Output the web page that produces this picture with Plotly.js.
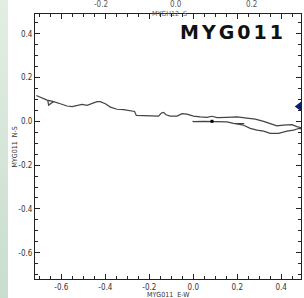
<!DOCTYPE html>
<html><head><meta charset="utf-8">
<script src="https://cdn.plot.ly/plotly-3.0.1.min.js"></script>
<style>
html,body{margin:0;padding:0;}
body{width:304px;height:298px;overflow:hidden;background:#fff linear-gradient(to bottom,#e2eee2,#c9ddcf) no-repeat 0 0/8px 100%;}
#chart{width:304px;height:298px;}
</style></head><body><div id="chart"></div>
<script>
// particle motion trace (E-W, N-S displacement)
const ewDisp = [-0.714,-0.695,-0.665,-0.635,-0.658,-0.662,-0.635,-0.605,-0.574,-0.551,-0.529,-0.506,-0.483,-0.460,-0.438,-0.423,-0.400,-0.377,-0.347,-0.317,-0.286,-0.267,-0.259,-0.210,-0.158,-0.145,-0.135,-0.124,-0.105,-0.074,-0.051,-0.029,0.001,0.032,0.062,0.085,0.108,0.153,0.199,0.244,0.282,0.320,0.350,0.380,0.410,0.449,0.471,0.505,0.514,0.505,0.479,0.456,0.426,0.388,0.350,0.320,0.290,0.259,0.229,0.183,0.232,0.183,0.153,0.108,0.085,0.047,0.001,-0.003];
const nsDisp = [0.118,0.109,0.097,0.090,0.074,0.095,0.090,0.080,0.070,0.067,0.073,0.077,0.073,0.080,0.090,0.090,0.080,0.065,0.055,0.053,0.049,0.045,0.027,0.026,0.024,0.038,0.041,0.030,0.024,0.024,0.035,0.033,0.024,0.020,0.018,0.023,0.017,0.018,0.020,0.015,0.010,0.000,-0.010,-0.021,-0.017,-0.015,-0.024,-0.030,-0.034,-0.033,-0.033,-0.040,-0.045,-0.055,-0.055,-0.045,-0.040,-0.032,-0.018,-0.009,-0.011,-0.009,-0.003,-0.001,0.000,0.000,-0.001,0.001];
const dotEW = [0.085], dotNS = [0.0];
const markEW = [0.482], markNS = [0.068];
const majorTicks = [-0.6,-0.4,-0.2,0,0.2,0.4];
const majorLabels = ["-0.6","-0.4","-0.2","0.0","0.2","0.4"];
const topTicks = [-0.2,0,0.2];
const topLabels = ["-0.2","0.0","0.2"];

const tickFont = {family:"Liberation Sans Narrow, DejaVu Sans Condensed, Arial Narrow, sans-serif", size:8, color:"#333"};
const titleFont = {family:"Liberation Sans Narrow, DejaVu Sans Condensed, sans-serif", size:7, color:"#333"};

const traces = [
  {x: ewDisp, y: nsDisp, mode:"lines", line:{color:"#444", width:1.2}, hoverinfo:"skip"},
  {x: dotEW, y: dotNS, mode:"markers", marker:{symbol:"square", size:3, color:"#000"}, hoverinfo:"skip"},
  {x: markEW, y: markNS, mode:"markers", marker:{symbol:"triangle-left", size:9, color:"#0b1c6b"}, cliponaxis:false, hoverinfo:"skip"},
  {x: topTicks, y: topTicks.map(()=>null), xaxis:"x2", mode:"lines", hoverinfo:"skip"}
];

const axisCommon = {
  showline:true, linecolor:"#222", linewidth:1, mirror:"ticks",
  ticks:"inside", ticklen:5, tickcolor:"#222", tickwidth:1,
  tickmode:"array", tickvals:majorTicks, ticktext:majorLabels,
  minor:{ticks:"inside", ticklen:3, tick0:0, dtick:0.05, tickcolor:"#222"},
  showgrid:false, zeroline:false, tickfont:tickFont, range:[-0.72,0.49]
};

const topLabelAnns = topTicks.map((v,i)=>({
  xref:"x2", yref:"paper", x:v, y:1.034, text:topLabels[i], showarrow:false,
  font:{family:tickFont.family, size:8, color:"#555"}, xanchor:"center", yanchor:"middle"
}));

const layout = {
  width:304, height:298,
  margin:{l:35, r:3, t:14, b:19, pad:0},
  paper_bgcolor:"rgba(0,0,0,0)", plot_bgcolor:"#fff",
  showlegend:false,
  xaxis: Object.assign({}, axisCommon),
  yaxis: Object.assign({}, axisCommon),
  xaxis2: {overlaying:"x", side:"top", range:[-0.376,0.333], tickmode:"array", tickvals:topTicks,
           ticks:"", showticklabels:false, showline:false, showgrid:false, zeroline:false},
  annotations:[
    {xref:"paper", yref:"paper", x:0.7425, y:0.933, text:"MYG011", showarrow:false,
     font:{family:"DejaVu Sans, sans-serif", size:19, weight:700, color:"#111"}, xanchor:"center", yanchor:"middle"},
    {xref:"paper", yref:"paper", x:0.5075, y:1.0, text:"MYGH12  S", showarrow:false,
     font:{family:titleFont.family, size:7, color:"#555"}, xanchor:"center", yanchor:"middle"},
    {xref:"paper", yref:"paper", x:0.5, y:-0.0585, text:"MYG011  E-W", showarrow:false,
     font:titleFont, xanchor:"center", yanchor:"middle"},
    {xref:"paper", yref:"paper", x:-0.0752, y:0.5, text:"MYG011  N-S", showarrow:false, textangle:-90,
     font:titleFont, xanchor:"center", yanchor:"middle"}
  ].concat(topLabelAnns)
};

Plotly.newPlot("chart", traces, layout, {staticPlot:true, displayModeBar:false}).then(()=>{
  const t = document.querySelectorAll(".annotation-text")[0];
  if (t) { t.style.letterSpacing = "3px"; }
});
</script></body></html>
